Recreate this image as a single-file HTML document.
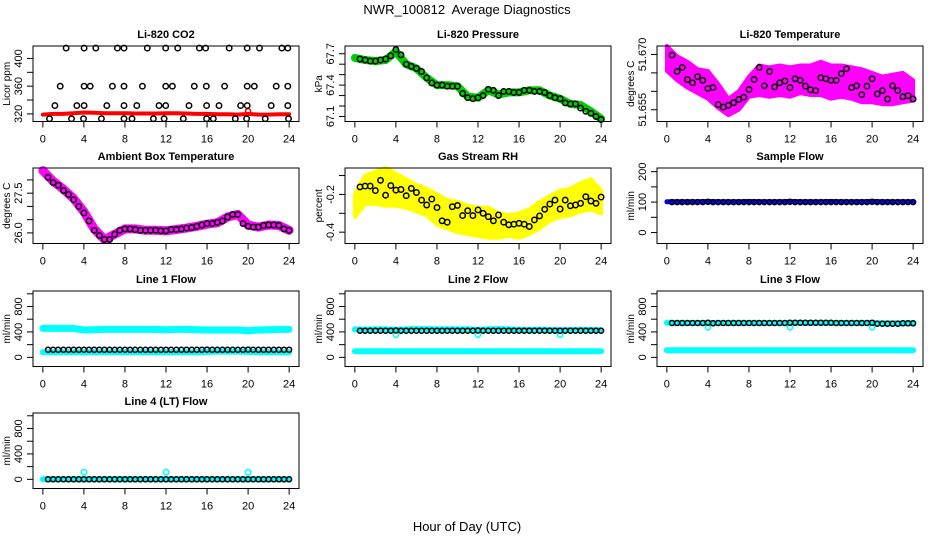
<!DOCTYPE html>
<html><head><meta charset="utf-8"><style>
html,body{margin:0;padding:0;background:#fff;}
svg{display:block;font-family:"Liberation Sans",Arial,sans-serif;}
</style></head><body>
<svg id="fig" width="936" height="540" viewBox="0 0 936 540" xmlns="http://www.w3.org/2000/svg">
<text x="467" y="14" text-anchor="middle" font-size="13">NWR_100812&#160; Average Diagnostics</text>
<text x="467" y="531" text-anchor="middle" font-size="13">Hour of Day (UTC)</text>
</svg>
<script>
// ---------- data ----------
const hours25 = [0,1,2,3,4,5,6,7,8,9,10,11,12,13,14,15,16,17,18,19,20,21,22,23,24];
const hours48 = [0.5,1,1.5,2,2.5,3,3.5,4,4.5,5,5.5,6,6.5,7,7.5,8,8.5,9,9.5,10,10.5,11,11.5,12,12.5,13,13.5,14,14.5,15,15.5,16,16.5,17,17.5,18,18.5,19,19.5,20,20.5,21,21.5,22,22.5,23,23.5,24];

const co2Red = [319,320,320,321,322,321.5,321,321,321,320.5,320.5,320.5,321,321,320.5,320,320,319.5,319.5,319,320,319,319,319.5,319.5];
const co2X415 = [2.27,4.02,5.16,7.26,7.91,10.18,11.97,13.14,15.25,15.86,18.16,19.91,21.11,23.29,23.87];
const co2X360 = [1.69,4.02,4.61,6.78,7.91,9.70,11.97,12.62,14.76,15.93,17.71,19.91,20.6,22.74,23.87];
const co2X332 = [1.17,3.31,4.02,6.23,7.91,9.15,11.32,11.97,14.24,15.96,17.16,19.27,19.91,22.25,23.87];
const co2X313 = [0.65,2.79,3.96,5.71,7.91,8.69,10.77,11.81,13.69,15.96,16.61,18.75,19.85,21.67,23.94];
const co2Levels = [415,360,332,313];

const presGreen = [67.66,67.64,67.63,67.64,67.72,67.6,67.56,67.47,67.4,67.4,67.39,67.29,67.28,67.35,67.31,67.33,67.33,67.35,67.35,67.3,67.27,67.22,67.21,67.15,67.08];
const presBlack = [67.65,67.64,67.63,67.63,67.64,67.65,67.68,67.74,67.69,67.6,67.58,67.56,67.53,67.47,67.42,67.4,67.4,67.39,67.39,67.39,67.32,67.28,67.27,67.28,67.3,67.36,67.35,67.3,67.34,67.34,67.33,67.33,67.35,67.35,67.34,67.34,67.33,67.3,67.28,67.27,67.23,67.22,67.22,67.18,67.15,67.13,67.1,67.07];

const tempHi = [51.6723,51.6695,51.668,51.666,51.6655,51.662,51.658,51.660,51.664,51.667,51.6665,51.667,51.6665,51.667,51.667,51.668,51.667,51.667,51.6665,51.666,51.665,51.664,51.6645,51.665,51.663];
const tempLo = [51.6655,51.663,51.661,51.6595,51.658,51.6555,51.6535,51.655,51.6585,51.659,51.6585,51.659,51.6585,51.6595,51.659,51.659,51.658,51.6585,51.658,51.657,51.657,51.6565,51.6565,51.657,51.6575];
const tempBlack = [51.6698,51.6654,51.6665,51.6632,51.6623,51.664,51.663,51.6608,51.661,51.6564,51.6557,51.6562,51.6569,51.6578,51.6584,51.6605,51.6632,51.6665,51.6615,51.6654,51.6612,51.6623,51.6628,51.661,51.6634,51.663,51.6614,51.6604,51.6602,51.6637,51.6634,51.663,51.663,51.6648,51.6661,51.661,51.6615,51.6591,51.6614,51.6634,51.6593,51.6602,51.6579,51.6615,51.6602,51.6585,51.6588,51.6579];

const ambMagenta = [28.35,27.95,27.65,27.3,26.8,26.15,25.75,25.95,26.15,26.15,26.1,26.1,26.08,26.13,26.18,26.25,26.33,26.38,26.6,26.7,26.3,26.22,26.3,26.28,26.1];
const ambBlack = [28.1,27.9,27.8,27.6,27.45,27.25,27.0,26.75,26.45,26.1,25.9,25.75,25.75,25.95,26.1,26.15,26.15,26.13,26.1,26.1,26.1,26.1,26.08,26.08,26.13,26.13,26.15,26.18,26.2,26.25,26.3,26.35,26.35,26.4,26.45,26.6,26.7,26.7,26.35,26.25,26.22,26.22,26.28,26.3,26.3,26.28,26.15,26.1];

const rhHi = [-0.2,-0.1,-0.08,-0.06,-0.09,-0.12,-0.15,-0.17,-0.2,-0.23,-0.24,-0.26,-0.27,-0.27,-0.3,-0.31,-0.3,-0.28,-0.24,-0.21,-0.18,-0.17,-0.14,-0.12,-0.18];
const rhLo = [-0.32,-0.25,-0.25,-0.26,-0.26,-0.27,-0.29,-0.31,-0.36,-0.38,-0.4,-0.41,-0.42,-0.43,-0.43,-0.42,-0.43,-0.41,-0.38,-0.34,-0.32,-0.31,-0.29,-0.28,-0.3];
const rhBlack = [-0.16,-0.156,-0.156,-0.18,-0.125,-0.204,-0.153,-0.177,-0.174,-0.207,-0.168,-0.19,-0.23,-0.256,-0.225,-0.27,-0.34,-0.347,-0.265,-0.258,-0.312,-0.286,-0.312,-0.282,-0.3,-0.318,-0.34,-0.309,-0.347,-0.361,-0.358,-0.353,-0.358,-0.37,-0.335,-0.314,-0.279,-0.251,-0.23,-0.277,-0.23,-0.26,-0.256,-0.247,-0.212,-0.235,-0.247,-0.214];

const sampleBlue = [101,101,101,101,102,101,101,101,102,101,101,101,102,101,101,101,102,101,101,101,102,101,101,101,101];
const sampleBlack = [100,100,100,100,100,100,100,101,100,100,100,100,100,100,100,100,100,100,100,100,100,100,100,101,100,100,100,100,100,100,100,100,100,100,100,100,100,100,100,101,100,100,100,100,100,100,100,100];

const l1CyanHi = [456,455,455,455,430,435,440,440,440,440,440,440,435,440,440,435,430,430,430,430,420,430,435,440,440];
const l1CyanLo = [80,80,80,80,80,80,80,80,80,80,80,80,80,80,80,80,85,90,90,90,85,80,80,80,80];
const l1Black = [118,118,118,118,118,118,118,120,118,118,118,118,118,118,118,120,118,118,118,118,118,118,118,120,118,118,118,118,118,118,118,122,118,118,118,118,118,118,118,122,118,118,118,118,118,118,118,120];

const l2CyanHi = [440,435,440,440,430,440,445,445,440,440,440,440,430,440,445,440,430,430,435,430,425,430,430,430,425];
const l2CyanLo = [95,95,95,95,95,97,97,97,97,97,97,97,97,97,97,97,97,97,97,97,97,97,97,95,95];
const l2Black = [420,420,420,420,420,420,420,422,420,420,420,420,420,420,420,420,420,420,420,420,420,420,420,422,420,420,420,420,420,420,420,420,420,420,420,420,420,420,420,420,420,420,420,420,420,420,420,420];
const l2DipX = [4,12,20];
const l2DipY = [355,355,355];

const l3CyanHi = [545,540,540,540,540,540,540,540,540,540,540,540,540,540,540,540,540,540,540,540,540,535,535,535,540];
const l3CyanLo = [113,113,113,113,113,113,113,113,113,113,113,113,113,113,113,113,113,113,113,113,113,113,113,113,113];
const l3Black = [540,540,540,540,540,540,540,545,535,540,540,540,540,540,540,540,540,540,540,540,540,540,540,545,545,545,545,545,545,545,545,545,540,540,540,540,540,540,540,545,530,530,530,530,530,535,535,535];
const l3DipX = [4,12,20];
const l3DipY = [470,470,470];

const l4Cyan = [0,0,0,0,0,0,0,0,0,0,0,0,0,0,0,0,0,0,0,0,0,0,0,0,0];
const l4Black = [0,0,0,0,0,0,0,0,0,0,0,0,0,0,0,0,0,0,0,0,0,0,0,0,0,0,0,0,0,0,0,0,0,0,0,0,0,0,0,0,0,0,0,0,0,0,0,0];
const l4SpikeX = [4,12,20];
const l4SpikeY = [112,112,112];

const xTicks = [0,4,8,12,16,20,24];

// ---------- drawing ----------
const NS = 'http://www.w3.org/2000/svg';
const svg = document.getElementById('fig');
function el(tag, parent){ const e = document.createElementNS(NS, tag); parent.appendChild(e); return e; }

const colLeft = [33, 345, 657];
const rowTop = [46, 168, 291, 413];
const W = 266, H = 75.5;

function panel(name, col, row, ylim, yticks, ylabels, ylab, title){
  const g = el('g', svg);
  
  
  const L = colLeft[col], T = rowTop[row];
  const xmin = -0.96, xmax = 24.96;
  const sx = v => L + (v - xmin) / (xmax - xmin) * W;
  const sy = v => T + H - (v - ylim[0]) / (ylim[1] - ylim[0]) * H;
  const plot = el('g', g);
  
  
  const box = el('rect', g);
  
  
  box.setAttribute('x', L); box.setAttribute('y', T); box.setAttribute('width', W); box.setAttribute('height', H);
  box.setAttribute('fill', 'none'); box.setAttribute('stroke', '#000'); box.setAttribute('stroke-width', '1');
  const t = el('text', g);
  
  
  t.setAttribute('x', L + W / 2); t.setAttribute('y', T - 8);
  t.setAttribute('text-anchor', 'middle'); t.setAttribute('font-size', '11'); t.setAttribute('font-weight', 'bold');
  t.textContent = title;
  const xa = el('g', g);
  
  
  const xl = el('line', xa);
  xl.setAttribute('x1', sx(xTicks[0])); xl.setAttribute('x2', sx(xTicks[xTicks.length - 1]));
  xl.setAttribute('y1', T + H); xl.setAttribute('y2', T + H); xl.setAttribute('stroke', '#000');
  xTicks.forEach(v => {
    const tk = el('line', xa);
    
    
    tk.setAttribute('x1', sx(v)); tk.setAttribute('x2', sx(v));
    tk.setAttribute('y1', T + H); tk.setAttribute('y2', T + H + 6); tk.setAttribute('stroke', '#000');
    const lb = el('text', xa);
    
    
    lb.setAttribute('x', sx(v)); lb.setAttribute('y', T + H + 21);
    lb.setAttribute('text-anchor', 'middle'); lb.setAttribute('font-size', '11');
    lb.textContent = v;
  });
  const ya = el('g', g);
  
  
  const yl = el('line', ya);
  yl.setAttribute('x1', L); yl.setAttribute('x2', L);
  yl.setAttribute('y1', sy(yticks[0])); yl.setAttribute('y2', sy(yticks[yticks.length - 1])); yl.setAttribute('stroke', '#000');
  yticks.forEach((v, i) => {
    const tk = el('line', ya);
    
    
    tk.setAttribute('x1', L - 6); tk.setAttribute('x2', L);
    tk.setAttribute('y1', sy(v)); tk.setAttribute('y2', sy(v)); tk.setAttribute('stroke', '#000');
    if (ylabels[i] !== '') {
      const lb = el('text', ya);
      
      
      const x = L - 11, y = sy(v);
      lb.setAttribute('transform', 'translate(' + x + ',' + y + ') rotate(-90)');
      lb.setAttribute('text-anchor', 'middle'); lb.setAttribute('font-size', '11');
      lb.textContent = ylabels[i];
    }
  });
  const yt = el('text', g);
  
  
  yt.setAttribute('transform', 'translate(' + (L - 23) + ',' + (T + H / 2) + ') rotate(-90)');
  yt.setAttribute('text-anchor', 'middle'); yt.setAttribute('font-size', '10');
  yt.textContent = ylab;
  return {plot, sx, sy};
}

function line(p, name, xs, ys, color, w){
  const pl = el('polyline', p.plot);
  
  
  const n = Math.min(xs.length, ys.length);
  const pts = [];
  for (let i = 0; i < n; i++) pts.push(p.sx(xs[i]).toFixed(1) + ',' + p.sy(ys[i]).toFixed(1));
  pl.setAttribute('points', pts.join(' '));
  pl.setAttribute('fill', 'none'); pl.setAttribute('stroke', color);
  pl.setAttribute('stroke-width', w); pl.setAttribute('stroke-linejoin', 'round'); pl.setAttribute('stroke-linecap', 'round');
}
function band(p, name, xs, lo, hi, color){
  const pg = el('polygon', p.plot);
  
  
  const n = Math.min(xs.length, lo.length, hi.length);
  const pts = [];
  for (let i = 0; i < n; i++) pts.push(p.sx(xs[i]).toFixed(1) + ',' + p.sy(hi[i]).toFixed(1));
  for (let i = n - 1; i >= 0; i--) pts.push(p.sx(xs[i]).toFixed(1) + ',' + p.sy(lo[i]).toFixed(1));
  pg.setAttribute('points', pts.join(' '));
  pg.setAttribute('fill', color); pg.setAttribute('stroke', color); pg.setAttribute('stroke-width', '4');
  pg.setAttribute('stroke-linejoin', 'round');
}
function circles(p, name, xs, ys, color, r, sw){
  const n = Math.min(xs.length, ys.length);
  for (let i = 0; i < n; i++) {
    const c = el('circle', p.plot);
    
    
    c.setAttribute('cx', p.sx(xs[i]).toFixed(1)); c.setAttribute('cy', p.sy(ys[i]).toFixed(1));
    c.setAttribute('r', r); c.setAttribute('fill', 'none'); c.setAttribute('stroke', color); c.setAttribute('stroke-width', sw);
  }
}

const pCO2 = panel('co2', 0, 0, [309, 418], [320,340,360,380,400], ['320','','360','','400'], 'Licor ppm', 'Li-820 CO2');
line(pCO2, 'co2-raw-series', hours25, co2Red, '#ff0000', 4);
circles(pCO2, 'co2-raw-point', [20], [324], '#ff0000', 2.5, 1.5);
[co2X415, co2X360, co2X332, co2X313].forEach((xs, k) => {
  circles(pCO2, 'co2-average-point', xs, xs.map(() => co2Levels[k]), '#000', 2.7, 1.5);
});

const pP = panel('pressure', 1, 0, [67.052, 67.774], [67.1,67.2,67.3,67.4,67.5,67.6,67.7], ['67.1','','','67.4','','','67.7'], 'kPa', 'Li-820 Pressure');
line(pP, 'pressure-raw-series', hours25, presGreen, '#00cc00', 8);
circles(pP, 'pressure-average-point', hours48, presBlack, '#000', 2.7, 1.5);

const pT = panel('li820-temp', 2, 0, [51.6518, 51.6723], [51.655,51.660,51.665,51.670], ['51.655','','','51.670'], 'degrees C', 'Li-820 Temperature');
band(pT, 'li820-temp-raw-band', hours25, tempLo, tempHi, '#ff00ff');
circles(pT, 'li820-temp-average-point', hours48, tempBlack, '#000', 2.7, 1.5);

const pA = panel('ambient', 0, 1, [25.6, 28.45], [26.0,26.5,27.0,27.5,28.0], ['26.0','','','27.5',''], 'degrees C', 'Ambient Box Temperature');
line(pA, 'ambient-raw-series', hours25, ambMagenta, '#ff00ff', 9);
circles(pA, 'ambient-average-point', hours48, ambBlack, '#000', 2.7, 1.5);

const pR = panel('rh', 1, 1, [-0.46, -0.06], [-0.4,-0.3,-0.2,-0.1], ['-0.4','','-0.2',''], 'percent', 'Gas Stream RH');
band(pR, 'rh-raw-band', hours25, rhLo, rhHi, '#ffff00');
circles(pR, 'rh-average-point', hours48, rhBlack, '#000', 2.7, 1.5);

const pS = panel('sample-flow', 2, 1, [-36, 212], [0,50,100,150,200], ['0','','100','','200'], 'ml/min', 'Sample Flow');
line(pS, 'sample-flow-raw-series', hours25, sampleBlue, '#0000ff', 5);
circles(pS, 'sample-flow-average-point', hours48, sampleBlack, '#000', 2.5, 1.5);

const flowLim = [-144, 1044], flowTicks = [0,200,400,600,800,1000], flowLabels = ['0','','400','','800',''];
const p1 = panel('line1-flow', 0, 2, flowLim, flowTicks, flowLabels, 'ml/min', 'Line 1 Flow');
line(p1, 'line1-raw-high-series', hours25, l1CyanHi, '#00ffff', 7);
line(p1, 'line1-raw-low-series', hours25, l1CyanLo, '#00ffff', 6);
circles(p1, 'line1-average-point', hours48, l1Black, '#000', 2.5, 1.5);
const p2 = panel('line2-flow', 1, 2, flowLim, flowTicks, flowLabels, 'ml/min', 'Line 2 Flow');
line(p2, 'line2-raw-high-series', hours25, l2CyanHi, '#00ffff', 6);
line(p2, 'line2-raw-low-series', hours25, l2CyanLo, '#00ffff', 6);
circles(p2, 'line2-dip-point', l2DipX, l2DipY, '#00ffff', 2.5, 1.5);
circles(p2, 'line2-average-point', hours48, l2Black, '#000', 2.5, 1.5);
const p3 = panel('line3-flow', 2, 2, flowLim, flowTicks, flowLabels, 'ml/min', 'Line 3 Flow');
line(p3, 'line3-raw-high-series', hours25, l3CyanHi, '#00ffff', 6);
line(p3, 'line3-raw-low-series', hours25, l3CyanLo, '#00ffff', 6);
circles(p3, 'line3-dip-point', l3DipX, l3DipY, '#00ffff', 2.5, 1.5);
circles(p3, 'line3-average-point', hours48, l3Black, '#000', 2.5, 1.5);
const p4 = panel('line4-flow', 0, 3, flowLim, flowTicks, flowLabels, 'ml/min', 'Line 4 (LT) Flow');
line(p4, 'line4-raw-series', hours25, l4Cyan, '#00ffff', 6);
circles(p4, 'line4-spike-point', l4SpikeX, l4SpikeY, '#00ffff', 2.7, 1.6);
circles(p4, 'line4-average-point', hours48, l4Black, '#000', 2.5, 1.5);
</script>
</body></html>
